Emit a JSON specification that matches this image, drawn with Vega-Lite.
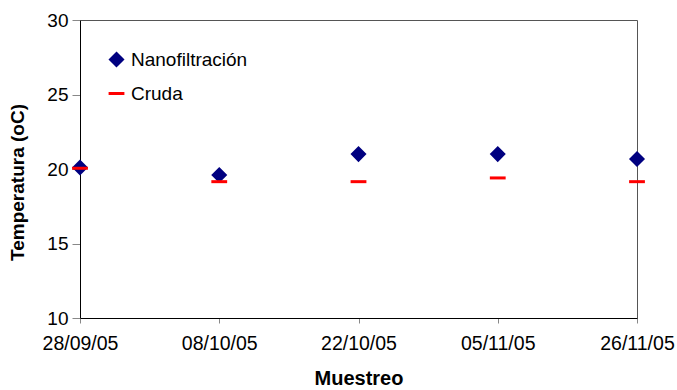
{
  "$schema": "https://vega.github.io/schema/vega-lite/v6.json",
  "width": 557,
  "height": 298,
  "autosize": "none",
  "padding": {"left": 80, "top": 20, "right": 40, "bottom": 72},
  "background": "white",
  "config": {
    "font": "Liberation Sans",
    "view": {"stroke": "#555555", "strokeWidth": 1},
    "axis": {"grid": false, "domainColor": "#000000", "tickColor": "#888888", "labelColor": "#000000", "titleColor": "#000000"}
  },
  "data": {
    "values": [
      {"fecha": "28/09/05", "serie": "Nanofiltración", "temp": 20.1},
      {"fecha": "08/10/05", "serie": "Nanofiltración", "temp": 19.6},
      {"fecha": "22/10/05", "serie": "Nanofiltración", "temp": 21.0},
      {"fecha": "05/11/05", "serie": "Nanofiltración", "temp": 21.0},
      {"fecha": "26/11/05", "serie": "Nanofiltración", "temp": 20.67},
      {"fecha": "28/09/05", "serie": "Cruda", "temp": 20.05},
      {"fecha": "08/10/05", "serie": "Cruda", "temp": 19.15},
      {"fecha": "22/10/05", "serie": "Cruda", "temp": 19.15},
      {"fecha": "05/11/05", "serie": "Cruda", "temp": 19.4},
      {"fecha": "26/11/05", "serie": "Cruda", "temp": 19.15}
    ]
  },
  "mark": {"type": "point", "filled": true, "strokeWidth": 3, "opacity": 1, "strokeCap": "butt"},
  "encoding": {
    "x": {
      "field": "fecha", "type": "ordinal", "sort": null,
      "scale": {"type": "point", "padding": 0},
      "axis": {"title": "Muestreo", "labelAngle": 0, "labelFontSize": 19.5, "labelPadding": 11, "tickSize": 5,
               "titleFontSize": 20, "titleFontWeight": "bold", "titlePadding": 16}
    },
    "y": {
      "field": "temp", "type": "quantitative",
      "scale": {"domain": [10, 30], "zero": false, "nice": false},
      "axis": {"title": "Temperatura (oC)", "values": [10, 15, 20, 25, 30], "labelFontSize": 19, "labelPadding": 4,
               "tickSize": 8, "titleFontSize": 19, "titleFontWeight": "bold", "titlePadding": 19, "titleY": 162}
    },
    "color": {
      "field": "serie", "type": "nominal",
      "scale": {"domain": ["Nanofiltración", "Cruda"], "range": ["#000080", "#ff0000"]},
      "legend": {
        "title": null, "orient": "none", "legendX": 27, "legendY": 30,
        "labelFontSize": 19, "labelOffset": 5, "rowPadding": 12, "symbolSize": 110,
        "symbolStrokeWidth": 3, "padding": 0
      }
    },
    "stroke": {
      "field": "serie", "type": "nominal",
      "scale": {"domain": ["Nanofiltración", "Cruda"], "range": ["#000080", "#ff0000"]},
      "legend": {
        "title": null, "orient": "none", "legendX": 27, "legendY": 30,
        "labelFontSize": 19, "labelOffset": 5, "rowPadding": 12, "symbolSize": 110,
        "symbolStrokeWidth": 3, "padding": 0
      }
    },
    "shape": {
      "field": "serie", "type": "nominal",
      "scale": {"domain": ["Nanofiltración", "Cruda"], "range": ["diamond", "stroke"]},
      "legend": {
        "title": null, "orient": "none", "legendX": 27, "legendY": 30,
        "labelFontSize": 19, "labelOffset": 5, "rowPadding": 12, "symbolSize": 110,
        "symbolStrokeWidth": 3, "padding": 0
      }
    },
    "size": {
      "field": "serie", "type": "nominal",
      "scale": {"domain": ["Nanofiltración", "Cruda"], "range": [140, 250]},
      "legend": null
    },
    "order": {"field": "serie", "sort": "descending"}
  }
}
